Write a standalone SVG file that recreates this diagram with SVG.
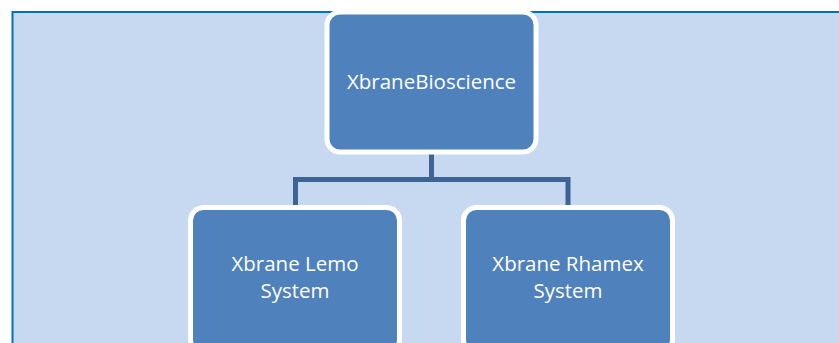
<svg xmlns="http://www.w3.org/2000/svg" width="839" height="343" viewBox="0 0 839 343">
<style>
.node rect{fill:#4F81BD;stroke:#FFFFFF;stroke-width:5}
.node text{font-family:"Open Sans","Liberation Sans",sans-serif;font-size:20.5px;fill:#FFFFFF;text-anchor:middle}
.conn{fill:none;stroke:#3D6495;stroke-width:5;stroke-linejoin:miter}
</style>
<rect x="0" y="0" width="839" height="343" fill="#FFFFFF"/>
<rect id="bg" x="12.5" y="12" width="840" height="350" fill="#C6D9F0" stroke="#0070C0" stroke-width="2"/>
<g id="connectors">
<path class="conn" d="M431.5,152 V179.5 M295.5,207 V179.5 H568 V207"/>
</g>
<g id="n-root" class="node">
<rect x="327" y="12" width="209" height="140" rx="13"/>
<text x="431.5" y="89">XbraneBioscience</text>
</g>
<g id="n-lemo" class="node">
<rect x="190.5" y="207.5" width="209" height="145" rx="13"/>
<text x="295" y="271">Xbrane Lemo</text>
<text x="295" y="298">System</text>
</g>
<g id="n-rhamex" class="node">
<rect x="463.5" y="207.5" width="209" height="145" rx="13"/>
<text x="568" y="271">Xbrane Rhamex</text>
<text x="568" y="298">System</text>
</g>
</svg>
